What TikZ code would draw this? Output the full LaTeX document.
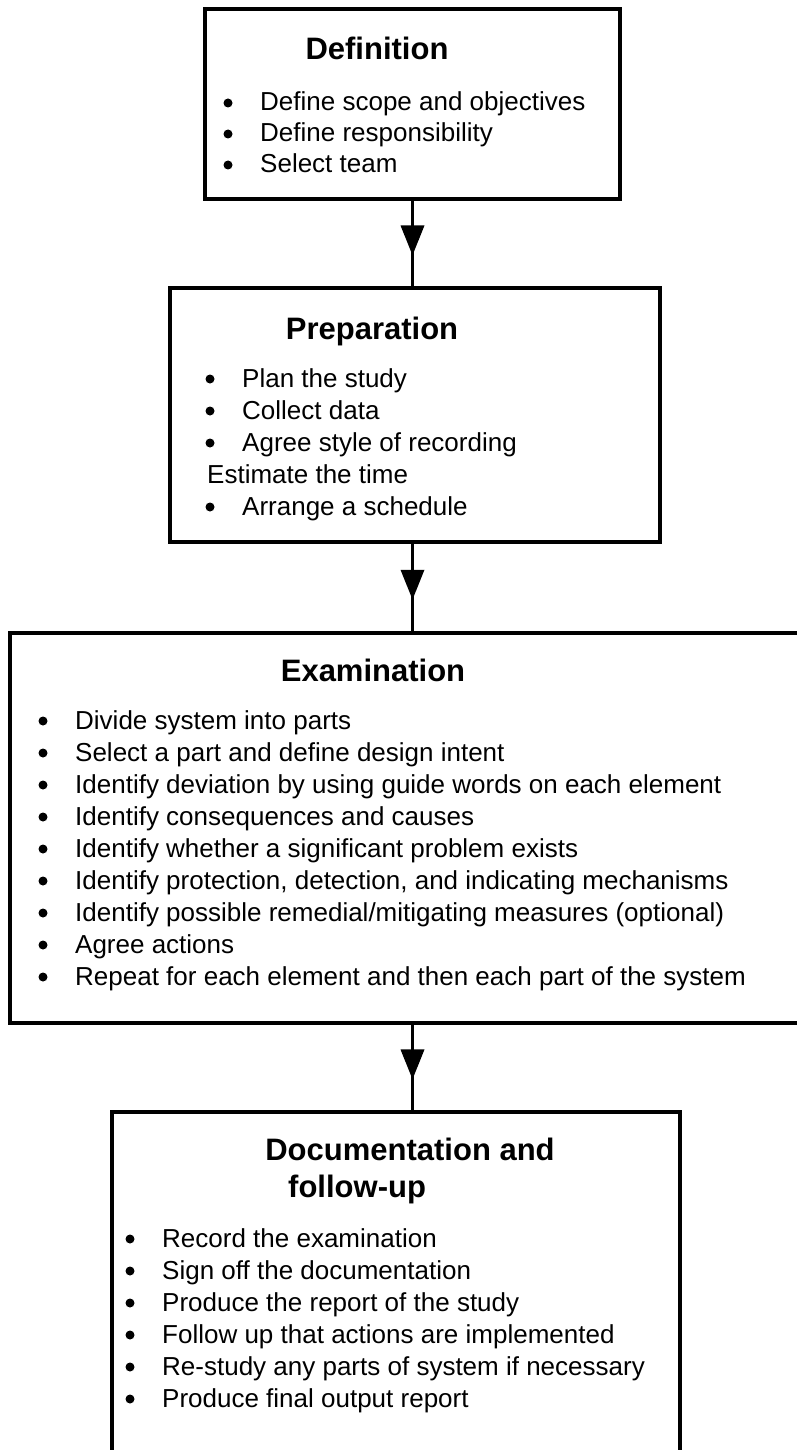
\documentclass[tikz,border=0pt]{standalone}
\usepackage{fontspec}
\setmainfont{Liberation Sans}
\usetikzlibrary{arrows.meta,decorations.markings}
\tikzset{
  stage/.style={draw=black, line width=3.5pt, inner sep=0pt},
  ttl/.style={anchor=base, inner sep=0pt, font=\fontsize{31}{35}\selectfont\bfseries},
  item/.style={anchor=base west, inner sep=0pt, font=\fontsize{26}{30}\selectfont},
  bul/.style={circle, fill=black, inner sep=0pt, minimum size=9pt},
  flow/.style={line width=3.5pt, postaction={decorate}, decoration={markings,
     mark=at position 0.64 with {\arrow{Triangle[length=30pt,width=23pt]}}}}
}
\begin{document}
\begin{tikzpicture}[x=1pt,y=-1pt]
\useasboundingbox (0,0) rectangle (797,1450);
\clip (0,0) rectangle (797,1450);
% boxes
\node[stage, minimum width=415pt, minimum height=190pt] (def) at (412.5,104) {};
\node[stage, minimum width=490pt, minimum height=254pt] (prep) at (415,415) {};
\node[stage, minimum width=800pt, minimum height=390pt] (exam) at (410,828) {};
\node[stage, minimum width=568pt, minimum height=360pt] (doc) at (396,1292) {};
% arrows
\draw[flow] (def.south) -- (def.south |- prep.north);
\draw[flow] (def.south |- prep.south) -- (def.south |- exam.north);
\draw[flow] (def.south |- exam.south) -- (def.south |- doc.north);
% Definition
\node[ttl] (t1) at (377,60) {Definition};
\foreach \y/\t [count=\i] in {111/Define scope and objectives,142/Define responsibility,173/Select team}{
  \node[bul] (b1\i) at (228,\y-8) {};
  \node[item] (l1\i) at (260,\y) {\t};
}
% Preparation
\node[ttl] (t2) at (372,339) {Preparation};
\foreach \y/\t [count=\i] in {387/Plan the study,419/Collect data,451/Agree style of recording,515/Arrange a schedule}{
  \node[bul] (b2\i) at (210,\y-8) {};
  \node[item] (l2\i) at (242,\y) {\t};
}
\node[item] (l25) at (207,483) {Estimate the time};
% Examination
\node[ttl] (t3) at (373,681) {Examination};
\foreach \y/\t [count=\i] in {729/Divide system into parts,761/Select a part and define design intent,793/Identify deviation by using guide words on each element,825/Identify consequences and causes,857/Identify whether a significant problem exists,889/{Identify protection, detection, and indicating mechanisms},921/{Identify possible remedial/mitigating measures (optional)},953/Agree actions,985/Repeat for each element and then each part of the system}{
  \node[bul] (b3\i) at (43,\y-8) {};
  \node[item] (l3\i) at (75,\y) {\t};
}
% Documentation
\node[ttl] (t4) at (410,1160) {Documentation and};
\node[ttl, anchor=base west] (t4b) at (288,1197) {follow-up};
\foreach \y/\t [count=\i] in {1247/Record the examination,1279/Sign off the documentation,1311/Produce the report of the study,1343/Follow up that actions are implemented,1375/Re-study any parts of system if necessary,1407/Produce final output report}{
  \node[bul] (b4\i) at (130,\y-8) {};
  \node[item] (l4\i) at (162,\y) {\t};
}
\end{tikzpicture}
\end{document}
